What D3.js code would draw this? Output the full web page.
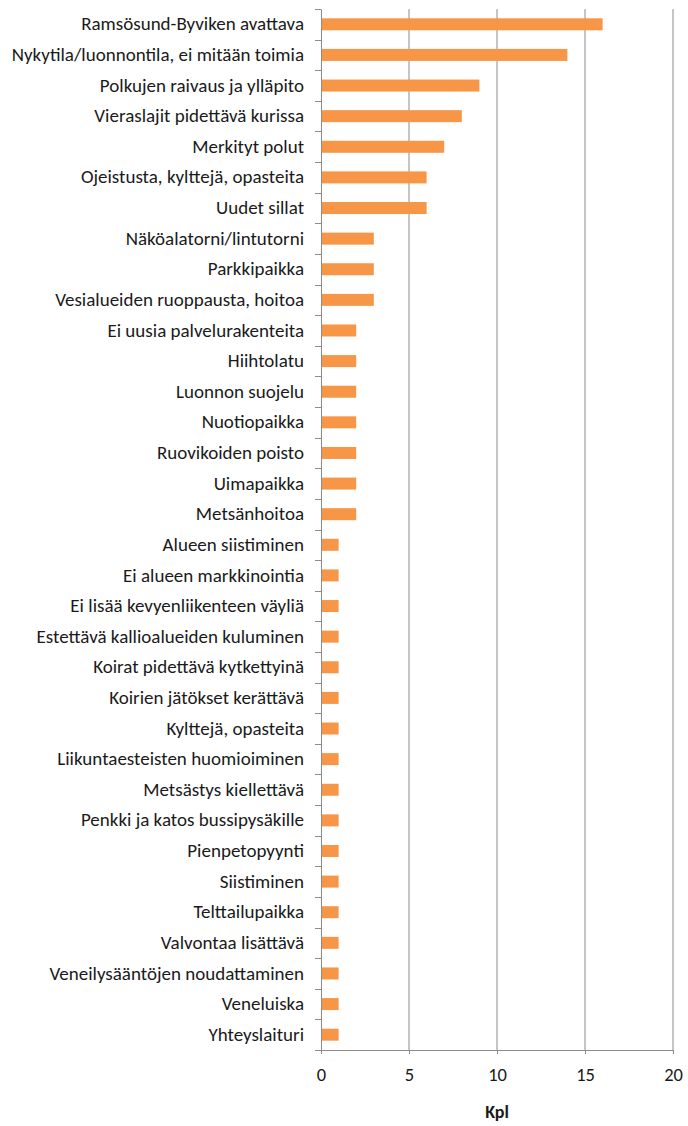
<!DOCTYPE html>
<html>
<head>
<meta charset="utf-8">
<script src="https://cdn.jsdelivr.net/npm/d3@7"></script>
<style>
  body { margin: 0; background: #fff; }
  text { font-family: Carlito, Lato, "Open Sans", sans-serif; fill: #1a1a1a; }
</style>
</head>
<body>
<svg id="chart" width="688" height="1126"></svg>
<script>
const categories = [
  'Ramsösund-Byviken avattava',
  'Nykytila/luonnontila, ei mitään toimia',
  'Polkujen raivaus ja ylläpito',
  'Vieraslajit pidettävä kurissa',
  'Merkityt polut',
  'Ojeistusta, kylttejä, opasteita',
  'Uudet sillat',
  'Näköalatorni/lintutorni',
  'Parkkipaikka',
  'Vesialueiden ruoppausta, hoitoa',
  'Ei uusia palvelurakenteita',
  'Hiihtolatu',
  'Luonnon suojelu',
  'Nuotiopaikka',
  'Ruovikoiden poisto',
  'Uimapaikka',
  'Metsänhoitoa',
  'Alueen siistiminen',
  'Ei alueen markkinointia',
  'Ei lisää kevyenliikenteen väyliä',
  'Estettävä kallioalueiden kuluminen',
  'Koirat pidettävä kytkettyinä',
  'Koirien jätökset kerättävä',
  'Kylttejä, opasteita',
  'Liikuntaesteisten huomioiminen',
  'Metsästys kiellettävä',
  'Penkki ja katos bussipysäkille',
  'Pienpetopyynti',
  'Siistiminen',
  'Telttailupaikka',
  'Valvontaa lisättävä',
  'Veneilysääntöjen noudattaminen',
  'Veneluiska',
  'Yhteyslaituri'
];
const values = [16, 14, 9, 8, 7, 6, 6, 3, 3, 3, 2, 2, 2, 2, 2, 2, 2,
  1, 1, 1, 1, 1, 1, 1, 1, 1, 1, 1, 1, 1, 1, 1, 1, 1];
const xTicks = [0, 5, 10, 15, 20];
const xTitle = 'Kpl';

const mLeft = 321, mRight = 673, mTop = 9, mBottom = 1050;
const svg = d3.select('#chart');

const x = d3.scaleLinear().domain([0, 20]).range([mLeft, mRight]);
const y = d3.scaleBand().domain(categories).range([mTop, mBottom]);
const barH = 12;

// vertical grid lines
svg.append('g')
  .selectAll('line')
  .data(xTicks.slice(1))
  .enter()
  .append('line')
  .attr('x1', d => x(d)).attr('x2', d => x(d))
  .attr('y1', mTop).attr('y2', mBottom)
  .attr('stroke', '#8c8c8c')
  .attr('stroke-width', 1);

// bars
svg.append('g')
  .selectAll('rect')
  .data(categories)
  .enter()
  .append('rect')
  .attr('x', x(0))
  .attr('y', d => y(d) + y.bandwidth() / 2 - barH / 2)
  .attr('width', (d, i) => x(values[i]) - x(0))
  .attr('height', barH)
  .attr('fill', '#f79646');

// x axis
const xAxis = svg.append('g')
  .attr('transform', `translate(0,${mBottom})`)
  .call(d3.axisBottom(x).tickValues(xTicks).tickSize(4).tickPadding(14));
xAxis.select('.domain').attr('stroke', '#8c8c8c');
xAxis.selectAll('.tick line').attr('stroke', '#8c8c8c');
xAxis.selectAll('text').attr('font-size', 18.5).attr('fill', '#1a1a1a').attr('font-family', null);

// y axis
const yAxis = svg.append('g')
  .attr('transform', `translate(${mLeft},0)`)
  .call(d3.axisLeft(y).tickSize(0).tickPadding(17));
yAxis.select('.domain').attr('stroke', '#8c8c8c');
yAxis.selectAll('text').attr('font-size', 19).attr('fill', '#1a1a1a').attr('font-family', null);

// y tick marks at band boundaries
svg.append('g')
  .selectAll('line')
  .data(categories.concat(['end']))
  .enter()
  .append('line')
  .attr('x1', mLeft - 6).attr('x2', mLeft)
  .attr('y1', (d, i) => Math.round(mTop + i * y.step()) + 0.5)
  .attr('y2', (d, i) => Math.round(mTop + i * y.step()) + 0.5)
  .attr('stroke', '#8c8c8c');

svg.append('text')
  .attr('x', (mLeft + mRight) / 2)
  .attr('y', 1118)
  .attr('text-anchor', 'middle')
  .attr('font-size', 18)
  .attr('font-weight', 'bold')
  .text(xTitle);
</script>
</body>
</html>
